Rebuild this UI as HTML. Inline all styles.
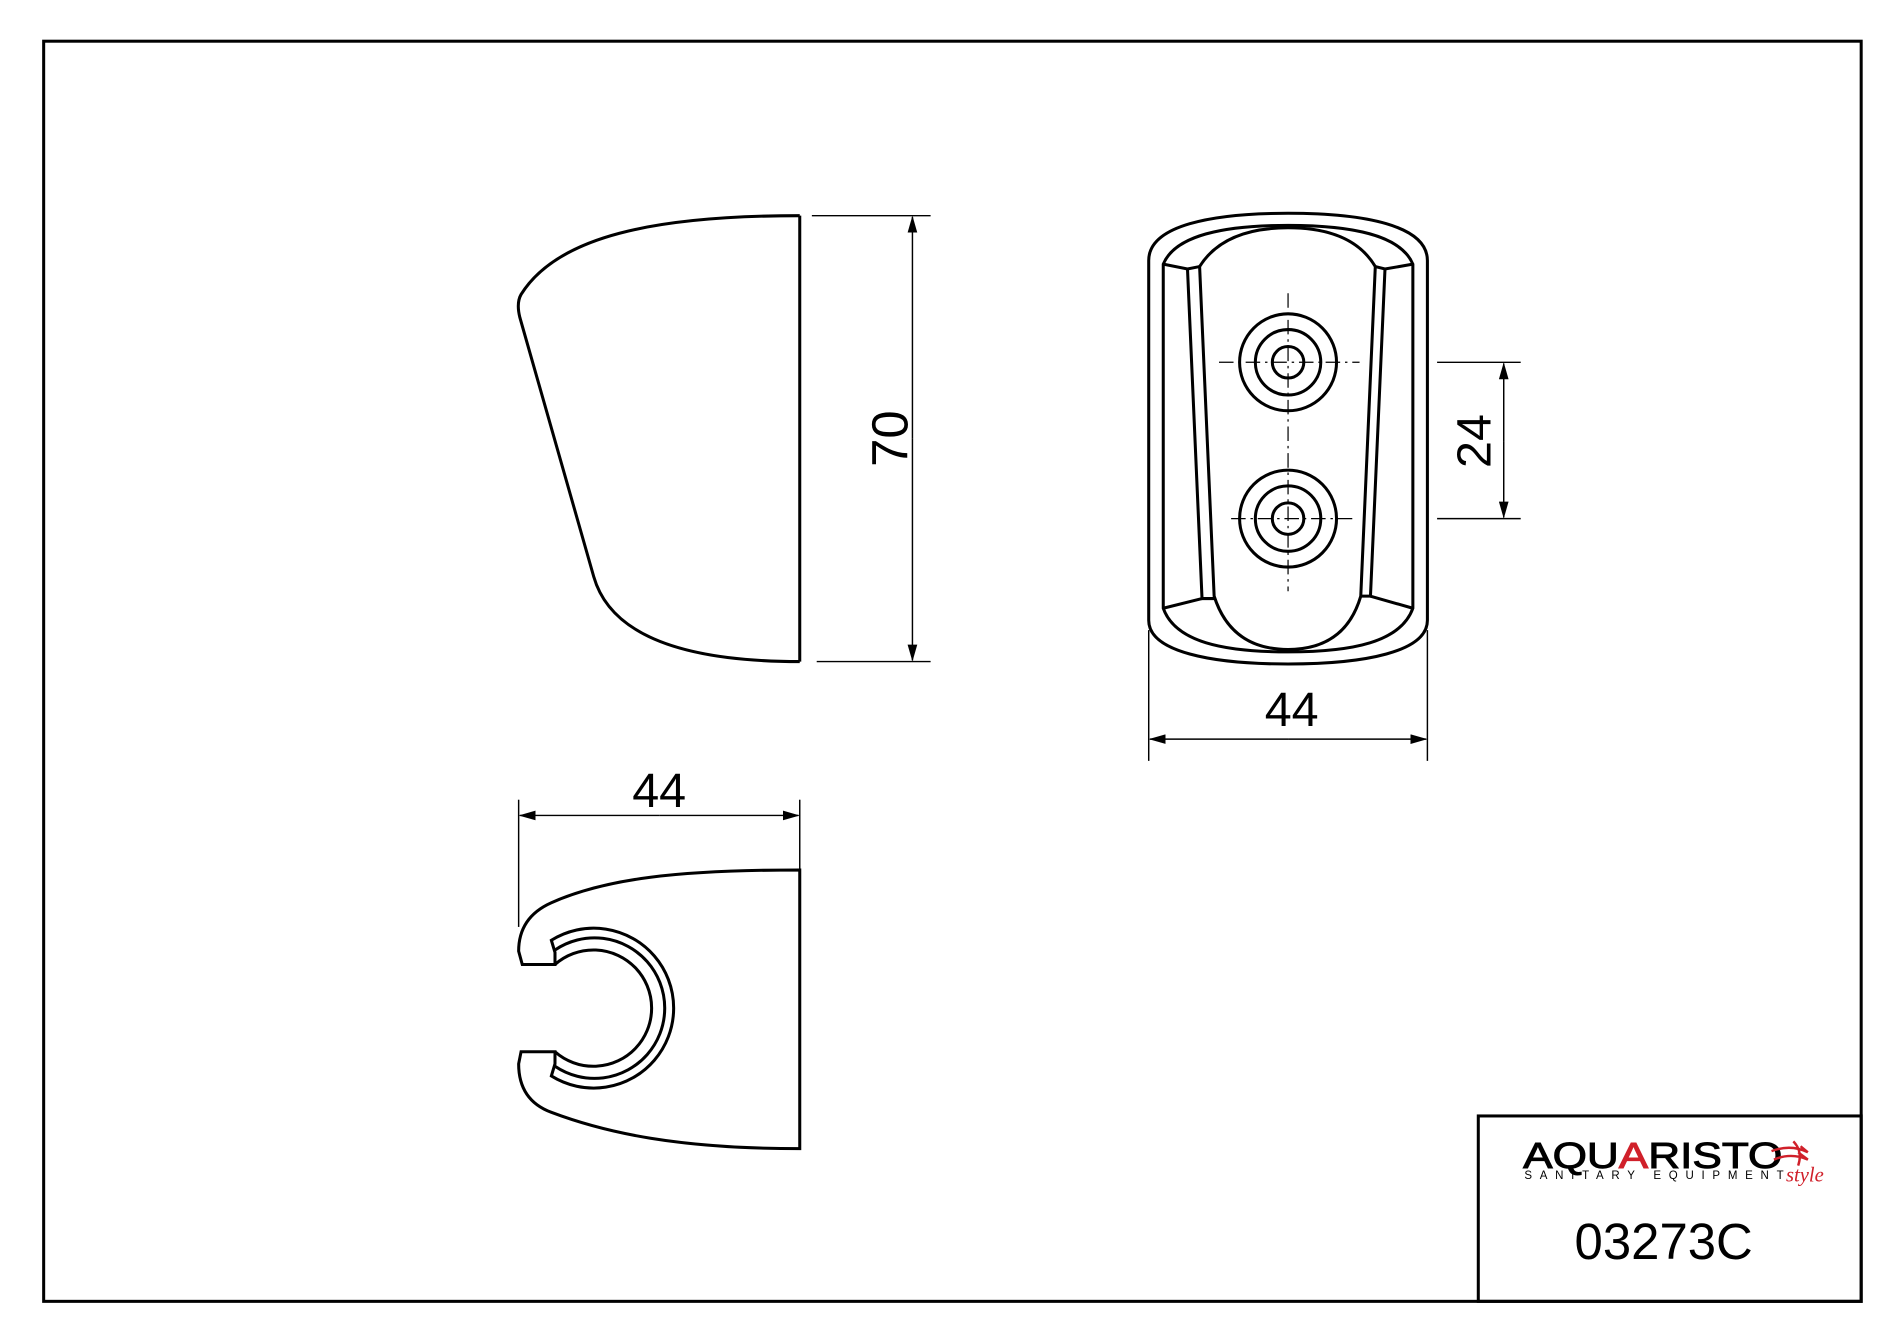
<!DOCTYPE html>
<html><head><style>html,body{margin:0;padding:0;background:#fff}svg{display:block}</style></head>
<body>
<svg width="1900" height="1328" viewBox="0 0 1568 1096" xmlns="http://www.w3.org/2000/svg" font-family="Liberation Sans, sans-serif">
<defs>
<marker id="a" markerWidth="14" markerHeight="8" refX="13" refY="4" orient="auto" markerUnits="userSpaceOnUse"><path d="M0,0 L14,4 L0,8 Z" fill="#000"/></marker>
</defs>
<rect x="36" y="34" width="1500" height="1040" fill="none" stroke="#000" stroke-width="2.5"/>
<rect x="1220" y="921" width="316" height="153" fill="none" stroke="#000" stroke-width="2.5"/>

<g fill="none" stroke="#000" stroke-width="2.5">
<path d="M660,178 C540,178 460,195 430,243 Q426,250 429,262 L490,476 Q510,546 660,546"/>
<line x1="660" y1="178" x2="660" y2="546"/>
</g>
<g stroke="#000" stroke-width="1.2">
<line x1="670" y1="178" x2="768" y2="178"/><line x1="674" y1="546" x2="768" y2="546"/>
<line x1="753" y1="362" x2="753" y2="179" marker-end="url(#a)"/><line x1="753" y1="362" x2="753" y2="545" marker-end="url(#a)"/>
</g>
<text transform="translate(749,362) rotate(-90)" text-anchor="middle" font-size="42">70</text>

<g fill="none" stroke="#000" stroke-width="2.5">
<path d="M948,215 C948,186 1000,176 1063,176 C1126,176 1178,186 1178,215 L1178,512 C1178,538 1126,548 1063,548 C1000,548 948,538 948,512 Z"/>
<path d="M960,218 L960,502 C970,530 1010,538 1063,538 C1116,538 1156,530 1166,502 L1166,218 C1156,194 1116,186 1063,186 C1010,186 970,194 960,218 Z"/>
<path d="M960,218 L980,222 L990,220 M1166,218 L1143,222 L1135,220"/>
<path d="M990,220 Q1010,188 1063,188 Q1116,188 1135,220 L1123,492 Q1110,536 1063,536 Q1016,536 1002,492 Z"/>
<path d="M980,222 L992,494 L1002,494 M1143,222 L1131,492 L1123,492"/>
<path d="M960,502 L992,494 M1166,502 L1131,492"/>
<circle cx="1063" cy="299" r="40"/><circle cx="1063" cy="299" r="27"/><circle cx="1063" cy="299" r="13"/>
<circle cx="1063" cy="428" r="40"/><circle cx="1063" cy="428" r="27"/><circle cx="1063" cy="428" r="13"/>
</g>
<g stroke="#000" stroke-width="1" stroke-dasharray="12,4,2,4">
<line x1="1063" y1="242" x2="1063" y2="488"/>
<line x1="1006" y1="299" x2="1122" y2="299"/>
<line x1="1016" y1="428" x2="1116" y2="428"/>
</g>
<g stroke="#000" stroke-width="1.2">
<line x1="1186" y1="299" x2="1255" y2="299"/><line x1="1186" y1="428" x2="1255" y2="428"/>
<line x1="1241" y1="364" x2="1241" y2="300" marker-end="url(#a)"/><line x1="1241" y1="364" x2="1241" y2="427" marker-end="url(#a)"/>
<line x1="948" y1="520" x2="948" y2="628"/><line x1="1178" y1="520" x2="1178" y2="628"/>
<line x1="1063" y1="610" x2="949" y2="610" marker-end="url(#a)"/><line x1="1063" y1="610" x2="1177" y2="610" marker-end="url(#a)"/>
</g>
<text transform="translate(1230,364) rotate(-90)" text-anchor="middle" font-size="40">24</text>
<text x="1066" y="599" text-anchor="middle" font-size="40">44</text>

<g stroke="#000" stroke-width="1.2">
<line x1="428" y1="660" x2="428" y2="765"/><line x1="660" y1="660" x2="660" y2="717"/>
<line x1="544" y1="673" x2="429" y2="673" marker-end="url(#a)"/><line x1="544" y1="673" x2="659" y2="673" marker-end="url(#a)"/>
</g>
<text x="544" y="666" text-anchor="middle" font-size="40">44</text>
<g fill="none" stroke="#000" stroke-width="2.5">
<path d="M660,718 C560,718 500,725 455,745 Q428,757 428,785 L431,796 L458,796 L458,786 L455,776 A66,66 0 1 1 455,888 L458,878 L458,868 L430,868 L428,878 Q428,908 455,918 C500,935 560,948 660,948 Z"/>
<path d="M458,784 A58,58 0 1 1 458,880"/>
<path d="M458,796 A48,48 0 1 1 458,868"/>
</g>

<text x="1257" y="964" font-size="30" textLength="214" lengthAdjust="spacingAndGlyphs" stroke="#000" stroke-width="0.8"><tspan>AQU</tspan><tspan fill="#d0202a" stroke="#d0202a">A</tspan><tspan>RISTO</tspan></text>
<text x="1258" y="973" font-size="9.5" textLength="214" lengthAdjust="spacing">SANITARY EQUIPMENT</text>
<path d="M1462,950 Q1478,944 1492,951 M1464,957 Q1478,951 1492,957 L1484,951 M1492,951 L1486,946 M1480,942 Q1488,950 1484,962" fill="none" stroke="#d0202a" stroke-width="2"/>
<text x="1474" y="975" font-size="17" font-style="italic" fill="#d0202a" font-family="Liberation Serif, serif">style</text>
<text x="1373" y="1039" text-anchor="middle" font-size="42">03273C</text>
</svg>
</body></html>
